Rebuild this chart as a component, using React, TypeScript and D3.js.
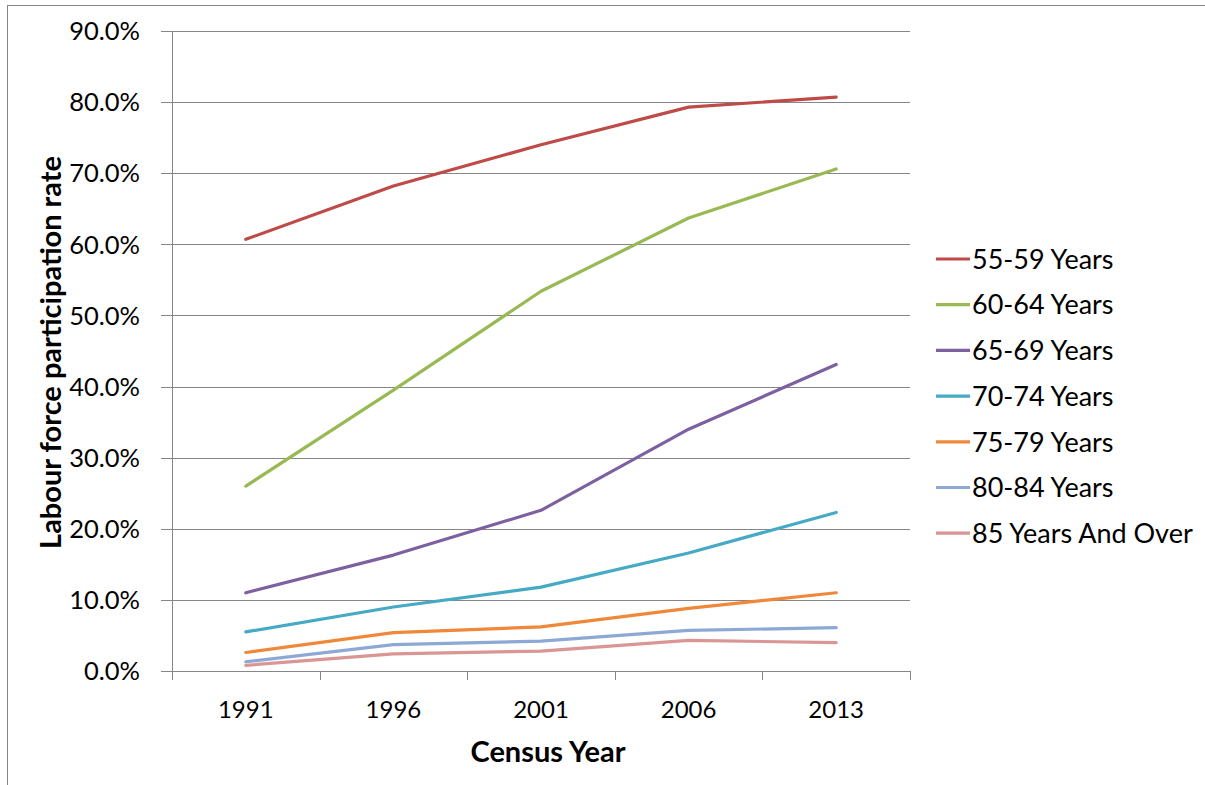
import React from 'react';
import * as d3 from 'd3';

const years = ['1991', '1996', '2001', '2006', '2013'];
const yTicks = [0, 10, 20, 30, 40, 50, 60, 70, 80, 90];

const s5559 = [60.7, 68.2, 74.0, 79.3, 80.7];
const s6064 = [26.0, 39.5, 53.4, 63.7, 70.6];
const s6569 = [11.0, 16.3, 22.6, 34.0, 43.1];
const s7074 = [5.5, 9.0, 11.8, 16.6, 22.3];
const s7579 = [2.6, 5.4, 6.2, 8.8, 11.0];
const s8084 = [1.3, 3.7, 4.2, 5.7, 6.1];
const s85 = [0.8, 2.4, 2.8, 4.3, 4.0];

const seriesNames = ['55-59 Years', '60-64 Years', '65-69 Years', '70-74 Years', '75-79 Years', '80-84 Years', '85 Years And Over'];
const seriesValues = [s5559, s6064, s6569, s7074, s7579, s8084, s85];
const seriesColors = ['#BE4B48', '#98B954', '#7D60A0', '#46AAC5', '#F0883A', '#8EA8D6', '#D99694'];

const W = 1205;
const H = 785;
const FONT = 'Lato, sans-serif';

export default function App() {
    const m = { left: 172, right: 910, top: 31, bottom: 671 };

    const x = d3.scaleBand<string>()
        .domain(years)
        .range([m.left, m.right]);

    const y = d3.scaleLinear()
        .domain([0, 90])
        .range([m.bottom, m.top]);

    const line = d3.line<number>()
        .x((_, i) => (x(years[i]) ?? 0) + x.bandwidth() / 2)
        .y(d => y(d));

    const boundaries = years.map(yr => x(yr) ?? 0).concat([m.right]);

    return (
        <svg width={W} height={H} style={{ position: 'absolute', left: 0, top: 0 }}>
            <rect x={0} y={0} width={W} height={H} fill="#fff" />
            {/* chart area border */}
            <rect x={7.5} y={5.5} width={W + 20} height={H + 20} fill="none" stroke="#868686" strokeWidth={1} />

            {/* gridlines + y ticks */}
            {yTicks.map(t => (
                <g key={t}>
                    <line x1={m.left - 11} x2={m.right} y1={Math.round(y(t)) + 0.5} y2={Math.round(y(t)) + 0.5}
                        stroke="#868686" strokeWidth={1} />
                    <text x={140} y={y(t)} dy="0.36em" textAnchor="end" fontFamily={FONT} fontSize={25.5} fill="#000">
                        {t.toFixed(1) + '%'}
                    </text>
                </g>
            ))}
            {/* y axis line */}
            <line x1={m.left + 0.5} x2={m.left + 0.5} y1={m.top} y2={m.bottom} stroke="#868686" />

            {/* x ticks */}
            {boundaries.map((bx, i) => (
                <line key={i} x1={Math.round(bx) + 0.5} x2={Math.round(bx) + 0.5} y1={m.bottom} y2={m.bottom + 9}
                    stroke="#868686" />
            ))}
            {years.map(yr => (
                <text key={yr} x={(x(yr) ?? 0) + x.bandwidth() / 2} y={718} textAnchor="middle"
                    fontFamily={FONT} fontSize={24} fill="#000">{yr}</text>
            ))}

            {/* series */}
            {seriesValues.map((vals, i) => (
                <path key={seriesNames[i]} d={line(vals) ?? ''} fill="none" stroke={seriesColors[i]}
                    strokeWidth={3.2} strokeLinejoin="round" strokeLinecap="round" />
            ))}

            {/* axis titles */}
            <text x={548} y={762} textAnchor="middle" fontFamily={FONT} fontSize={29}
                fontWeight="bold" fill="#000">Census Year</text>
            <text transform="translate(61,352.5) rotate(-90)" textAnchor="middle" fontFamily={FONT}
                fontSize={29} fontWeight="bold" fill="#000">Labour force participation rate</text>

            {/* legend */}
            {seriesNames.map((name, i) => {
                const ly = 259 + i * 45.7;
                return (
                    <g key={name}>
                        <line x1={936} x2={970} y1={ly} y2={ly} stroke={seriesColors[i]} strokeWidth={3.2} />
                        <text x={972} y={ly} dy="0.36em" fontFamily={FONT} fontSize={27} fill="#000">{name}</text>
                    </g>
                );
            })}
        </svg>
    );
}
